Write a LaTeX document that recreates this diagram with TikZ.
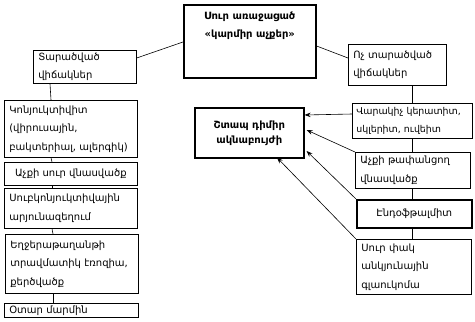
\documentclass[tikz,border=0pt]{standalone}
\usepackage{fontspec}
\setmainfont{DejaVu Sans}
\usetikzlibrary{arrows.meta}
\tikzset{
  txt/.style={font=\fontsize{10}{18.5}\selectfont},
  boxl/.style={draw, line width=0.7pt, txt, align=left, inner xsep=5pt, inner ysep=0pt, anchor=north west},
  boxc/.style={draw, line width=0.7pt, txt, align=center, inner sep=0pt, anchor=north west},
  boxb/.style={draw, line width=1.6pt, txt, align=center, inner sep=0pt, anchor=north west},
  conn/.style={line width=0.6pt},
  arr/.style={line width=0.6pt, -{Stealth[length=6pt,width=4.5pt]}},
}
\newcommand{\bx}[7]{% style, name, x1, y1, x2, y2, text
  \node[#1, minimum width={#5-#3}, minimum height={#6-#4}, text width={#5-#3-10}] (#2) at (#3,#4) {#7};}
\begin{document}
\begin{tikzpicture}[x=1pt,y=-1pt]
\useasboundingbox (0,0) rectangle (475,322);
% top
\node[boxb, minimum width=132pt, minimum height=73pt] (top) at (183,4) {};
\node[txt, font=\fontsize{10}{18.5}\selectfont\bfseries, align=center, anchor=north] (toptxt) at ([yshift=-4pt]top.north) {Սուր առաջացած\\«կարմիր աչքեր»};
% left column
\bx{boxl}{tar}{33}{50}{136}{83}{Տարածված\\վիճակներ}
\bx{boxl}{kon}{4}{100}{137}{157}{Կոնյուկտիվիտ\\(վիրուսային,\\բակտերիալ, ալերգիկ)}
\node[boxc, minimum width=133pt, minimum height=23pt] (achq) at (4,162) {Աչքի սուր վնասվածք};
\bx{boxl}{sub}{4}{188}{137}{228}{Սուբկոնյուկտիվային\\արյունազեղում}
\bx{boxl}{egh}{5}{234}{138}{293}{Եղջերաթաղանթի\\տրավմատիկ էռոզիա,\\քերծվածք}
\bx{boxl}{otar}{4}{303}{138}{317}{Օտար մարմին}
% right column
\bx{boxl}{och}{348}{44}{446}{85}{Ոչ տարածված\\վիճակներ}
\node[boxl, inner xsep=4pt, font=\fontsize{9.4}{18}\selectfont, minimum width=120pt, minimum height=35pt, text width=112pt] (var) at (352,103) {Վարակիչ կերատիտ,\\սկլերիտ, ուվեիտ};
\bx{boxl}{taf}{355}{152}{470}{188}{Աչքի թափանցող\\վնասվածք}
\node[boxb, minimum width=115pt, minimum height=28pt] (endo) at (356,199) {Էնդօֆթալմիտ};
\bx{boxl}{glau}{356}{239}{471}{294}{Սուր փակ\\անկյունային\\գլաուկոմա}
% urgent
\node[boxb, minimum width=109pt, minimum height=50pt, font=\fontsize{10}{15}\selectfont\bfseries] (sht) at (194,107) {Շտապ դիմիր\\ակնաբույժի};
% connectors
\draw[conn] ([yshift=-38pt]top.north west) -- ([yshift=-8pt]tar.north east);
\draw[conn] ([yshift=-42pt]top.north east) -- ([yshift=-14pt]och.north west);
\draw[conn] ([xshift=17pt]tar.south west) -- ([xshift=47pt]kon.north west);
\draw[conn] ([xshift=47pt]kon.south west) -- ([xshift=48pt]achq.north west);
\draw[conn] ([xshift=48pt]achq.south west) -- ([xshift=48pt]sub.north west);
\draw[conn] ([xshift=48pt]sub.south west) -- ([xshift=48pt]egh.north west);
\draw[conn] ([xshift=48pt]egh.south west) -- ([xshift=49pt]otar.north west);
\draw[conn] ([xshift=64pt]och.south west) -- ([xshift=60pt]var.north west);
\draw[conn] ([xshift=60pt]var.south west) -- ([xshift=57pt]taf.north west);
\draw[conn] ([xshift=57pt]taf.south west) -- ([xshift=56pt]endo.north west);
\draw[conn] ([xshift=56pt]endo.south west) -- ([xshift=56pt]glau.north west);
% arrows
\draw[arr] ([yshift=-11pt]var.north west) -- ([yshift=-8pt]sht.north east);
\draw[arr] (taf.north west) -- ([yshift=-23pt,xshift=2pt]sht.north east);
\draw[arr] (endo.north west) -- ([yshift=-44pt,xshift=2pt]sht.north east);
\draw[arr] (glau.north west) -- ([xshift=83pt,yshift=1pt]sht.south west);
\end{tikzpicture}
\end{document}
